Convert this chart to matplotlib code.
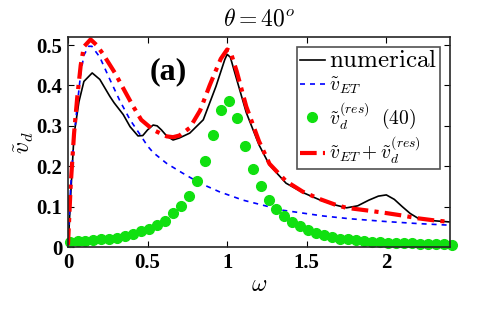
import numpy as np
import matplotlib
matplotlib.use('Agg')
import matplotlib.pyplot as plt

plt.rcParams['mathtext.fontset'] = 'cm'
plt.rcParams['font.family'] = ['Liberation Serif', 'DejaVu Serif']

# numerical curve
w_num = [0, 0.006, 0.017, 0.038, 0.069, 0.1, 0.152, 0.2, 0.263, 0.29, 0.347, 0.39,
         0.44, 0.47, 0.5, 0.535, 0.56, 0.587, 0.62, 0.66, 0.7, 0.765, 0.85, 0.93,
         0.985, 1.0, 1.02, 1.06, 1.12, 1.2, 1.266, 1.37, 1.475, 1.58, 1.67, 1.75,
         1.82, 1.89, 1.95, 2.0, 2.05, 2.1, 2.15, 2.2, 2.3, 2.4]
v_num = [0, 0.04, 0.128, 0.278, 0.36, 0.41, 0.431, 0.415, 0.373, 0.357, 0.328, 0.298,
         0.275, 0.276, 0.29, 0.302, 0.3, 0.29, 0.275, 0.265, 0.27, 0.282, 0.315, 0.398,
         0.464, 0.477, 0.47, 0.415, 0.333, 0.253, 0.203, 0.158, 0.135, 0.117, 0.105, 0.097,
         0.102, 0.116, 0.126, 0.129, 0.118, 0.1, 0.083, 0.071, 0.065, 0.062]

# v_ET
w_et = [0, 0.017, 0.038, 0.058, 0.08, 0.1, 0.13, 0.15, 0.2, 0.263, 0.326, 0.39, 0.45,
        0.5, 0.535, 0.62, 0.72, 0.83, 0.95, 1.1, 1.35, 1.6, 1.77, 2.0, 2.2, 2.4]
v_et = [0.005, 0.15, 0.27, 0.35, 0.43, 0.475, 0.497, 0.497, 0.47, 0.415, 0.362, 0.315,
        0.28, 0.25, 0.234, 0.207, 0.183, 0.158, 0.137, 0.116, 0.091, 0.077, 0.07, 0.063,
        0.058, 0.054]

# v_d^(res) from (40)
w_res = np.round(np.arange(49) * 0.05 + 0.01, 2)
v_res = [0.012, 0.014, 0.016, 0.017, 0.019, 0.021, 0.023, 0.027, 0.033, 0.039,
         0.045, 0.054, 0.065, 0.083, 0.101, 0.127, 0.163, 0.213, 0.278, 0.340,
         0.362, 0.319, 0.250, 0.194, 0.151, 0.117, 0.094, 0.076, 0.062, 0.051,
         0.042, 0.035, 0.029, 0.025, 0.021, 0.019, 0.017, 0.015, 0.013, 0.012,
         0.011, 0.010, 0.009, 0.009, 0.008, 0.008, 0.007, 0.007, 0.006]

# v_ET + v_d^(res)
w_sum = [0, 0.017, 0.038, 0.058, 0.08, 0.1, 0.142, 0.18, 0.22, 0.295, 0.357, 0.41,
         0.46, 0.535, 0.62, 0.66, 0.7, 0.765, 0.83, 0.89, 0.93, 0.96, 1.0, 1.02, 1.06,
         1.12, 1.2, 1.266, 1.37, 1.475, 1.58, 1.685, 1.75, 1.89, 2.0, 2.1, 2.2, 2.3, 2.4]
v_sum = [0.005, 0.153, 0.28, 0.37, 0.45, 0.496, 0.514, 0.5, 0.478, 0.431, 0.386, 0.348,
         0.315, 0.29, 0.274, 0.272, 0.276, 0.295, 0.338, 0.4, 0.438, 0.466, 0.489, 0.485,
         0.435, 0.348, 0.262, 0.206, 0.163, 0.137, 0.119, 0.104, 0.097, 0.09, 0.084,
         0.078, 0.071, 0.066, 0.062]

fig = plt.figure(figsize=(4.98, 3.12), dpi=100)
ax = fig.add_axes([0.1365, 0.2083, 0.7671, 0.6731])

ax.plot(w_num, v_num, color='k', lw=1.2, label=r'$\mathrm{numerical}$')
ax.plot(w_et, v_et, color='b', lw=1.2, ls=(0, (3, 3)), label=r'$\tilde{v}_{ET}$')
ax.plot(w_res, v_res, ls='none', marker='o', ms=7, color='#10e010', clip_on=False,
        label=r'$\tilde{v}_d^{(res)}\ \ (40)$')
ax.plot(w_sum, v_sum, color='r', lw=3, ls=(0, (4, 1.5, 1, 1.5)),
        label=r'$\tilde{v}_{ET}+\tilde{v}_d^{(res)}$')

ax.set_xlim(0, 2.4)
ax.set_ylim(0, 0.52)
ax.set_xticks([0, 0.5, 1, 1.5, 2])
ax.set_xticklabels(['0', '0.5', '1', '1.5', '2'], fontweight='bold', fontsize=15)
ax.set_yticks([0, 0.1, 0.2, 0.3, 0.4, 0.5])
ax.set_yticklabels(['0', '0.1', '0.2', '0.3', '0.4', '0.5'], fontweight='bold', fontsize=15)
ax.tick_params(direction='in', top=True, right=True, length=4, width=0.8, pad=4)
for s in ax.spines.values():
    s.set_linewidth(1.2)
    s.set_color('#262626')

ax.set_xlabel(r'$\omega$', fontsize=17, labelpad=2)
ax.set_ylabel(r'$\tilde{v}_d$', fontsize=17, labelpad=0)
ax.set_title(r'$\theta = 40^o$', fontsize=17, pad=8)

ax.text(0.63, 0.435, '(a)', fontsize=23, fontweight='bold', ha='center', va='center')

leg = ax.legend(loc='upper right', fontsize=14, frameon=True, fancybox=False,
                edgecolor='#262626', handlelength=1.3, handletextpad=0.2,
                borderpad=0.15, labelspacing=0.2, borderaxespad=0.5)
leg.get_frame().set_linewidth(1.2)
leg.get_texts()[0].set_fontsize(18)

fig.savefig('out.png', dpi=100)
